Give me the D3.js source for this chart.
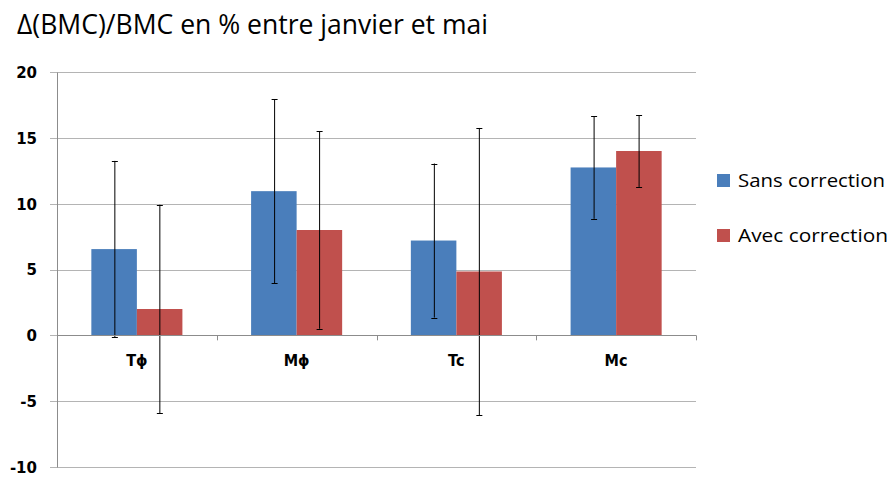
<!DOCTYPE html>
<html>
<head>
<meta charset="utf-8">
<script src="https://cdn.jsdelivr.net/npm/d3@7"></script>
<style>
  html, body { margin: 0; padding: 0; background: #fff; }
  svg { display: block; }
</style>
</head>
<body>
<svg id="chart" width="891" height="477"></svg>
<script>
// Relative change in BMC between January and May, by group
const categories = ["Tϕ", "Mϕ", "Tc", "Mc"];
const seriesNames = ["Sans correction", "Avec correction"];
const sansCorrection = [6.55, 10.95, 7.2, 12.75];
const avecCorrection = [2.0, 8.0, 4.85, 14.0];
const sansErr = [6.7, 7.0, 5.85, 3.9];
const avecErr = [7.92, 7.5, 10.9, 2.73];
const yTicks = [-10, -5, 0, 5, 10, 15, 20];
const colors = ["#4a7ebb", "#c0504d"];

const svg = d3.select("#chart");

const plot = { left: 57, right: 696, top: 72, bottom: 467 };

const y = d3.scaleLinear().domain([-10, 20]).range([plot.bottom, plot.top]);
const x = d3.scaleBand().domain(categories).range([plot.left, plot.right])
  .paddingInner(0.43).paddingOuter(0.215);
const xs = d3.scaleBand().domain(d3.range(seriesNames.length)).range([0, x.bandwidth()]);

// Title
svg.append("text")
  .attr("x", 17).attr("y", 34)
  .attr("font-family", "'Open Sans', sans-serif")
  .attr("font-size", 27)
  .attr("fill", "#000")
  .attr("textLength", 471)
  .attr("lengthAdjust", "spacingAndGlyphs")
  .text("Δ(BMC)/BMC en % entre janvier et mai");

// Horizontal gridlines
svg.append("g").selectAll("line").data(yTicks).join("line")
  .attr("x1", plot.left - 7).attr("x2", plot.right)
  .attr("y1", d => Math.round(y(d)) + 0.5).attr("y2", d => Math.round(y(d)) + 0.5)
  .attr("stroke", "#b4b4b4").attr("stroke-width", 1);

// Value axis (plain hyphen for negative numbers)
const yAxis = d3.axisLeft(y).tickValues(yTicks).tickFormat(d => String(d))
  .tickSize(0).tickPadding(20);
const gy = svg.append("g").attr("transform", `translate(${plot.left},0)`).call(yAxis);
gy.select(".domain").attr("stroke", "#8c8c8c");
gy.selectAll("text")
  .attr("font-family", "'DejaVu Sans', sans-serif")
  .attr("font-weight", "bold")
  .attr("font-size", 15)
  .attr("fill", "#000")
  .attr("dy", "0.36em");

// Bars
const data = categories.map((c, i) => ({
  cat: c,
  vals: [
    { s: 0, v: sansCorrection[i], e: sansErr[i] },
    { s: 1, v: avecCorrection[i], e: avecErr[i] }
  ]
}));

const groups = svg.append("g").selectAll("g").data(data).join("g")
  .attr("transform", d => `translate(${x(d.cat)},0)`);

groups.selectAll("rect").data(d => d.vals).join("rect")
  .attr("x", d => xs(d.s))
  .attr("width", xs.bandwidth())
  .attr("y", d => y(Math.max(0, d.v)))
  .attr("height", d => Math.abs(y(d.v) - y(0)))
  .attr("fill", d => colors[d.s]);

// Category axis along zero
const gx = svg.append("g");
gx.append("line")
  .attr("x1", plot.left).attr("x2", plot.right)
  .attr("y1", Math.round(y(0)) + 0.5).attr("y2", Math.round(y(0)) + 0.5)
  .attr("stroke", "#8c8c8c");
const boundaries = categories.map(c => x(c) - x.step() * x.paddingInner() / 2).concat([plot.right]);
gx.selectAll("line.tick").data(boundaries).join("line")
  .attr("class", "tick")
  .attr("x1", d => Math.round(d) + 0.5).attr("x2", d => Math.round(d) + 0.5)
  .attr("y1", y(0)).attr("y2", y(0) + 5)
  .attr("stroke", "#8c8c8c");
gx.selectAll("text").data(categories).join("text")
  .attr("x", d => x(d) + x.bandwidth() / 2)
  .attr("y", 0)
  .attr("transform", `translate(0,${y(0) + 31}) scale(1,1.12)`)
  .attr("text-anchor", "middle")
  .attr("font-family", "'DejaVu Sans', sans-serif")
  .attr("font-weight", "bold")
  .attr("font-size", 14.5)
  .attr("fill", "#000")
  .text(d => d);

// Error bars
const err = groups.selectAll("g.err").data(d => d.vals).join("g").attr("class", "err");
const cx = d => Math.round(xs(d.s) + xs.bandwidth() / 2) + 0.5;
err.append("line")
  .attr("x1", cx).attr("x2", cx)
  .attr("y1", d => y(d.v + d.e)).attr("y2", d => y(d.v - d.e))
  .attr("stroke", "#000").attr("stroke-width", 1);
[1, -1].forEach(sign => {
  err.append("line")
    .attr("x1", d => cx(d) - 3).attr("x2", d => cx(d) + 3)
    .attr("y1", d => Math.round(y(d.v + sign * d.e)) + 0.5)
    .attr("y2", d => Math.round(y(d.v + sign * d.e)) + 0.5)
    .attr("stroke", "#000").attr("stroke-width", 1);
});

// Legend
const legend = svg.append("g").selectAll("g").data(seriesNames).join("g")
  .attr("transform", (d, i) => `translate(717,${174 + i * 55})`);
legend.append("rect")
  .attr("width", 13).attr("height", 13)
  .attr("fill", (d, i) => colors[i]);
legend.append("text")
  .attr("x", 21).attr("y", 13)
  .attr("font-family", "'Open Sans', sans-serif")
  .attr("font-size", 19)
  .attr("fill", "#000")
  .attr("textLength", (d, i) => i === 0 ? 147 : 150)
  .attr("lengthAdjust", "spacingAndGlyphs")
  .text(d => d);
</script>
</body>
</html>
